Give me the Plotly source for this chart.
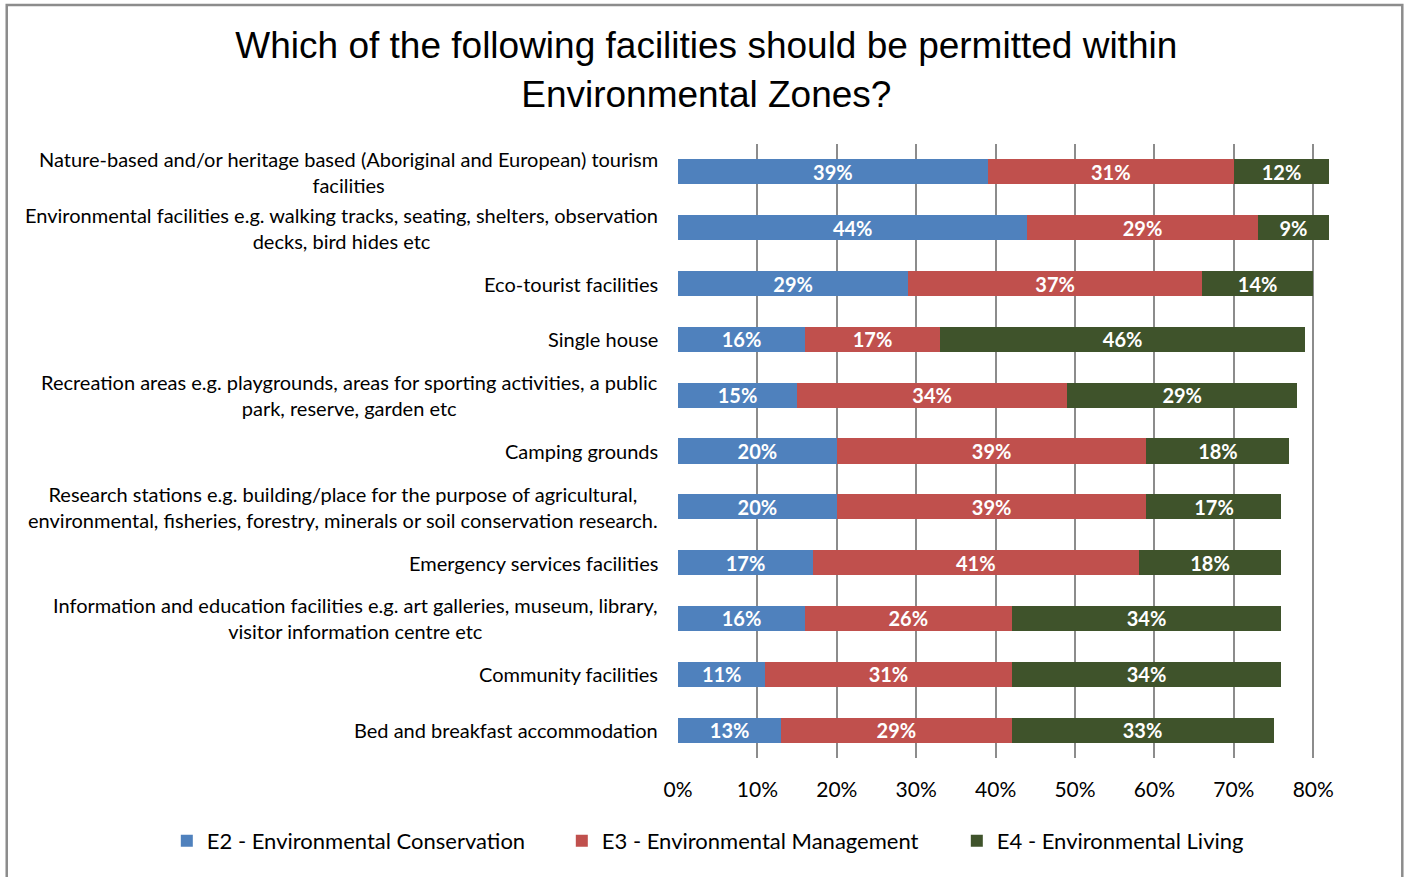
import plotly.graph_objects as go

# Facility categories, top to bottom
categories = [
    "Nature-based and/or heritage based (Aboriginal and European) tourism<br>facilities",
    "Environmental facilities e.g. walking tracks, seating, shelters, observation<br>decks, bird hides etc",
    "Eco-tourist facilities",
    "Single house",
    "Recreation areas e.g. playgrounds, areas for sporting activities, a public<br>park, reserve, garden etc",
    "Camping grounds",
    "Research stations e.g. building/place for the purpose of agricultural,<br>environmental, fisheries, forestry, minerals or soil conservation research.",
    "Emergency services facilities",
    "Information and education facilities e.g. art galleries, museum, library,<br>visitor information centre etc",
    "Community facilities",
    "Bed and breakfast accommodation",
]

# Share of respondents (%) per zone
e2_conservation = [39, 44, 29, 16, 15, 20, 20, 17, 16, 11, 13]
e3_management = [31, 29, 37, 17, 34, 39, 39, 41, 26, 31, 29]
e4_living = [12, 9, 14, 46, 29, 18, 17, 18, 34, 34, 33]

series_names = [
    "E2 - Environmental Conservation",
    "E3 - Environmental Management",
    "E4 - Environmental Living",
]
series_values = [e2_conservation, e3_management, e4_living]
series_colors = ["#4F81BD", "#C0504D", "#3F532B"]

x_ticks = [0, 0.1, 0.2, 0.3, 0.4, 0.5, 0.6, 0.7, 0.8]
x_tick_labels = ["0%", "10%", "20%", "30%", "40%", "50%", "60%", "70%", "80%"]

BODY_FONT = "Lato, Calibri, Carlito, sans-serif"

fig = go.Figure()
for name, vals, color in zip(series_names, series_values, series_colors):
    fig.add_trace(go.Bar(
        y=list(range(len(categories))),
        x=[v / 100 for v in vals],
        orientation="h",
        name=name,
        marker=dict(color=color, line=dict(width=0)),
        text=[f"{v}%" for v in vals],
        textposition="inside",
        insidetextanchor="middle",
        textangle=0,
        constraintext="none",
        textfont=dict(family=BODY_FONT, size=20, color="white", weight="bold"),
        cliponaxis=False,
        hoverinfo="skip",
    ))

# Category labels: right-aligned block, centred lines
for i, cat in enumerate(categories):
    fig.add_annotation(
        x=0, xref="paper", y=i, yref="y",
        text=cat, showarrow=False,
        xanchor="right", yanchor="middle", align="center",
        xshift=-18,
        font=dict(family=BODY_FONT, size=20, color="black"),
    )

# Outer chart frame
fig.add_shape(
    type="rect", xref="paper", yref="paper",
    x0=-1.0064, x1=1.0859, y0=-0.2, y1=1.2264,
    line=dict(color="#8C8C8C", width=2.5),
    fillcolor="rgba(0,0,0,0)", layer="above",
)

fig.update_layout(
    barmode="stack",
    bargap=0.55,
    width=1407, height=877,
    margin=dict(l=678, r=62, t=144, b=119, autoexpand=False),
    paper_bgcolor="white",
    plot_bgcolor="white",
    title=dict(
        text="Which of the following facilities should be permitted within<br>Environmental Zones?",
        font=dict(family="Liberation Sans, Arial, sans-serif", size=37, color="black"),
        x=0.502, xanchor="center", xref="container",
        y=0.9333, yanchor="middle", yref="container",
    ),
    xaxis=dict(
        range=[0, 0.84],
        tickvals=x_ticks,
        ticktext=x_tick_labels,
        showgrid=True, gridcolor="#8C8C8C", gridwidth=2,
        zeroline=False, showline=False,
        ticks="", ticklen=0,
        ticklabelstandoff=17,
        tickfont=dict(family=BODY_FONT, size=21, color="black"),
        fixedrange=True,
    ),
    yaxis=dict(
        range=[len(categories) - 0.5, -0.5],
        showticklabels=False, showgrid=False, zeroline=False,
        ticks="", fixedrange=True,
    ),
    legend=dict(
        orientation="h",
        xref="paper", x=-0.7664, xanchor="left",
        y=-0.135, yanchor="middle",
        font=dict(family=BODY_FONT, size=22, color="black"),
        traceorder="normal",
        entrywidth=350, entrywidthmode="pixels",
        bgcolor="rgba(0,0,0,0)",
    ),
    showlegend=True,
)

fig.write_html("out.html")
